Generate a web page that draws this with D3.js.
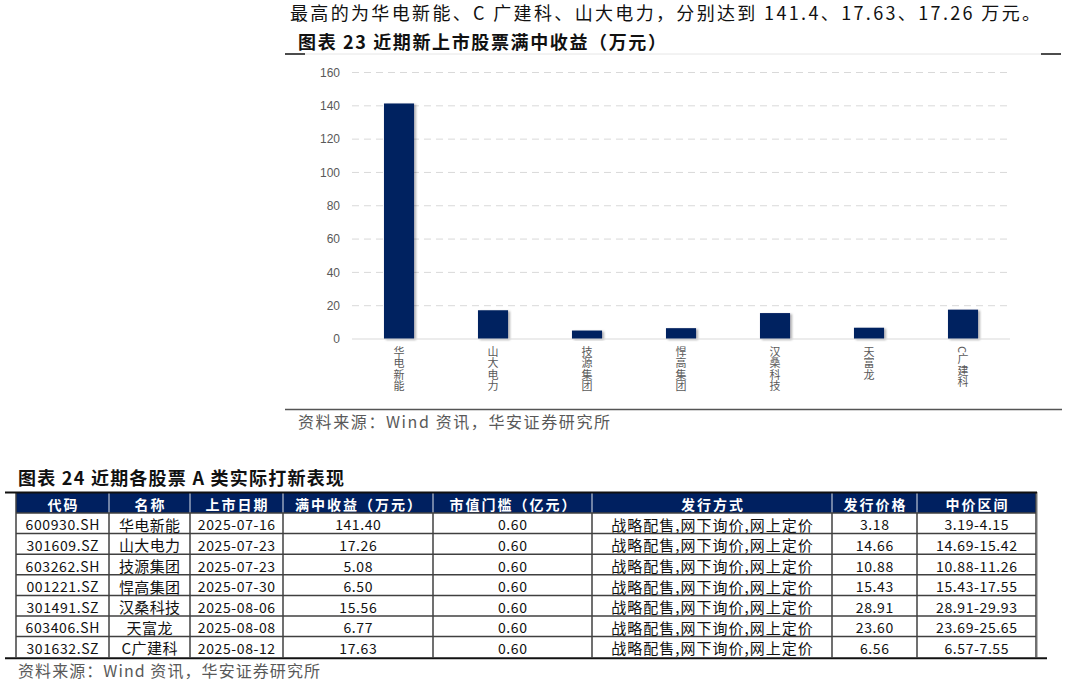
<!DOCTYPE html>
<html>
<head>
<meta charset="utf-8">
<script src="https://cdn.jsdelivr.net/npm/d3@7"></script>
<style>
  body { margin: 0; background: #fff; }
  svg { display: block; font-family: "Noto Sans CJK SC", "Liberation Sans", sans-serif; }
</style>
</head>
<body>
<div id="page"></div>
<script>
// data
var names = ['华电新能', '山大电力', '技源集团', '悍高集团', '汉桑科技', '天富龙', 'C广建科'];
var profits = [141.40, 17.26, 5.08, 6.50, 15.56, 6.77, 17.63];
var yTicks = [0, 20, 40, 60, 80, 100, 120, 140, 160];

var codes = ['600930.SH', '301609.SZ', '603262.SH', '001221.SZ', '301491.SZ', '603406.SH', '301632.SZ'];
var dates = ['2025-07-16', '2025-07-23', '2025-07-23', '2025-07-30', '2025-08-06', '2025-08-08', '2025-08-12'];
var thresholds = [0.60, 0.60, 0.60, 0.60, 0.60, 0.60, 0.60];
var methods = ['战略配售,网下询价,网上定价', '战略配售,网下询价,网上定价', '战略配售,网下询价,网上定价',
  '战略配售,网下询价,网上定价', '战略配售,网下询价,网上定价', '战略配售,网下询价,网上定价', '战略配售,网下询价,网上定价'];
var prices = [3.18, 14.66, 10.88, 15.43, 28.91, 23.60, 6.56];
var priceRanges = ['3.19-4.15', '14.69-15.42', '10.88-11.26', '15.43-17.55', '28.91-29.93', '23.69-25.65', '6.57-7.55'];
var headers = ['代码', '名称', '上市日期', '满中收益（万元）', '市值门槛（亿元）', '发行方式', '发行价格', '中价区间'];

var width = 1067, height = 686;
var navy = '#002060';
var grey = '#595959';

var svg = d3.select('#page').append('svg').attr('width', width).attr('height', height);

var defs = svg.append('defs');
defs.append('filter').attr('id', 'shadow').attr('x', '-20%').attr('y', '-20%').attr('width', '150%').attr('height', '140%')
  .append('feDropShadow').attr('dx', 2).attr('dy', 1).attr('stdDeviation', 1)
  .attr('flood-color', '#000').attr('flood-opacity', 0.3);

// intro line + chart title
svg.append('text').attr('x', 290).attr('y', 20).attr('font-size', 18).attr('fill', '#111')
  .attr('textLength', 750).attr('lengthAdjust', 'spacing')
  .text('最高的为华电新能、C 广建科、山大电力，分别达到 141.4、17.63、17.26 万元。');

svg.append('text').attr('x', 298).attr('y', 49).attr('font-size', 18).attr('font-weight', 'bold').attr('fill', '#111')
  .attr('textLength', 368).attr('lengthAdjust', 'spacing')
  .text('图表 23 近期新上市股票满中收益（万元）');

svg.append('line').attr('x1', 305).attr('x2', 1041).attr('y1', 54).attr('y2', 54).attr('stroke', '#e6e6e6').attr('stroke-width', 1);
svg.append('line').attr('x1', 285).attr('x2', 305).attr('y1', 54).attr('y2', 54).attr('stroke', '#111').attr('stroke-width', 1.5);
svg.append('line').attr('x1', 1041).attr('x2', 1061).attr('y1', 54).attr('y2', 54).attr('stroke', '#111').attr('stroke-width', 1.5);

// bar chart
var x = d3.scaleBand().domain(names).range([352, 1010]).paddingInner(0.68).paddingOuter(0.34);
var y = d3.scaleLinear().domain([0, 160]).range([339, 72.5]);

var grid = svg.append('g');
grid.selectAll('line').data(yTicks.filter(function (d) { return d > 0; })).enter().append('line')
  .attr('x1', 352).attr('x2', 1010)
  .attr('y1', function (d) { return y(d); }).attr('y2', function (d) { return y(d); })
  .attr('stroke', '#d9d9d9').attr('stroke-width', 1).attr('stroke-dasharray', '7,5');

var yAxis = svg.append('g').attr('transform', 'translate(352,0)')
  .call(d3.axisLeft(y).tickValues(yTicks).tickSize(0).tickPadding(12));
yAxis.select('.domain').remove();
yAxis.selectAll('text').attr('font-size', 12).attr('fill', grey).attr('font-family', '"Liberation Sans", Arial, sans-serif');

svg.append('g').selectAll('rect').data(names).enter().append('rect')
  .attr('x', function (d) { return x(d); })
  .attr('width', x.bandwidth())
  .attr('y', function (d, i) { return y(profits[i]); })
  .attr('height', function (d, i) { return y(0) - y(profits[i]); })
  .attr('fill', navy)
  .attr('filter', 'url(#shadow)');

svg.append('line').attr('x1', 352).attr('x2', 1010).attr('y1', y(0)).attr('y2', y(0))
  .attr('stroke', '#d9d9d9').attr('stroke-width', 1);

svg.append('g').selectAll('text').data(names).enter().append('text')
  .attr('x', function (d) { return x(d) + x.bandwidth() / 2; })
  .attr('y', 346)
  .attr('font-size', 11).attr('fill', grey)
  .style('writing-mode', 'vertical-rl')
  .style('letter-spacing', '0.5px')
  .text(function (d) { return d; });

svg.append('line').attr('x1', 285).attr('x2', 1062).attr('y1', 409.5).attr('y2', 409.5).attr('stroke', '#555').attr('stroke-width', 1.5);
svg.append('text').attr('x', 298).attr('y', 428).attr('font-size', 16).attr('fill', grey)
  .attr('textLength', 312).attr('lengthAdjust', 'spacing')
  .text('资料来源：Wind 资讯，华安证券研究所');

// table
svg.append('text').attr('x', 18).attr('y', 485).attr('font-size', 18).attr('font-weight', 'bold').attr('fill', '#111')
  .attr('textLength', 326).attr('lengthAdjust', 'spacing')
  .text('图表 24 近期各股票 A 类实际打新表现');

var colEdges = [16, 109, 190, 283, 433, 592, 832, 917, 1036];
var colFont = [14, 15, 14, 14, 14, 15, 14, 14];
var colSpacing = [0.6, 0.4, 0.6, 0.6, 0.6, 1, 0.6, 0.6];
var headTop = 493, headH = 20, rowH = 20.6;
var rows = codes.map(function (c, i) {
  return [c, names[i], dates[i], profits[i].toFixed(2), thresholds[i].toFixed(2), methods[i], prices[i].toFixed(2), priceRanges[i]];
});
var rowY = d3.scaleLinear().domain([0, rows.length]).range([headTop + headH, headTop + headH + rowH * rows.length]);
var tableBottom = rowY(rows.length);

svg.append('rect').attr('x', colEdges[0]).attr('y', headTop).attr('width', colEdges[8] - colEdges[0]).attr('height', headH).attr('fill', navy);

var head = svg.append('g');
head.selectAll('text').data(headers).enter().append('text')
  .attr('x', function (d, i) { return (colEdges[i] + colEdges[i + 1]) / 2 + 1; })
  .attr('y', headTop + headH / 2 + 1)
  .attr('text-anchor', 'middle').attr('dominant-baseline', 'central')
  .attr('font-size', 14).attr('font-weight', 'bold').attr('fill', '#fff')
  .style('letter-spacing', '2px')
  .text(function (d) { return d; });

var body = svg.append('g');
rows.forEach(function (r, ri) {
  body.selectAll('.r' + ri).data(r).enter().append('text')
    .attr('x', function (d, i) { return (colEdges[i] + colEdges[i + 1]) / 2 + colSpacing[i] / 2; })
    .attr('y', rowY(ri) + rowH / 2 + 1)
    .attr('text-anchor', 'middle').attr('dominant-baseline', 'central')
    .attr('font-size', function (d, i) { return colFont[i]; }).attr('fill', '#111')
    .style('letter-spacing', function (d, i) { return colSpacing[i] + 'px'; })
    .text(function (d) { return d; });
});

// grid lines of table
var tl = svg.append('g').attr('stroke', '#404040').attr('stroke-width', 1.5);
d3.range(1, rows.length).forEach(function (k) {
  tl.append('line').attr('x1', colEdges[0]).attr('x2', colEdges[8]).attr('y1', rowY(k)).attr('y2', rowY(k));
});
tl.append('line').attr('x1', colEdges[0]).attr('x2', colEdges[8]).attr('y1', rowY(0)).attr('y2', rowY(0));
colEdges.forEach(function (cx, i) {
  tl.append('line').attr('x1', cx).attr('x2', cx).attr('y1', i === 0 || i === 8 ? headTop : headTop + headH).attr('y2', tableBottom);
});
head.selectAll('line').data(colEdges.slice(1, 8)).enter().append('line')
  .attr('x1', function (d) { return d; }).attr('x2', function (d) { return d; })
  .attr('y1', headTop).attr('y2', headTop + headH).attr('stroke', '#dfe3ea').attr('stroke-width', 1);

svg.append('line').attr('x1', 1037.5).attr('x2', 1037.5).attr('y1', headTop - 1).attr('y2', tableBottom).attr('stroke', '#bbb').attr('stroke-width', 1);
svg.append('line').attr('x1', 5).attr('x2', 1037).attr('y1', headTop - 0.5).attr('y2', headTop - 0.5).attr('stroke', '#111').attr('stroke-width', 2);
svg.append('line').attr('x1', 5).attr('x2', 1047).attr('y1', tableBottom + 1).attr('y2', tableBottom + 1).attr('stroke', '#111').attr('stroke-width', 2);

svg.append('text').attr('x', 18).attr('y', 677).attr('font-size', 16).attr('fill', grey)
  .attr('textLength', 302).attr('lengthAdjust', 'spacing')
  .text('资料来源：Wind 资讯，华安证券研究所');
</script>
</body>
</html>
